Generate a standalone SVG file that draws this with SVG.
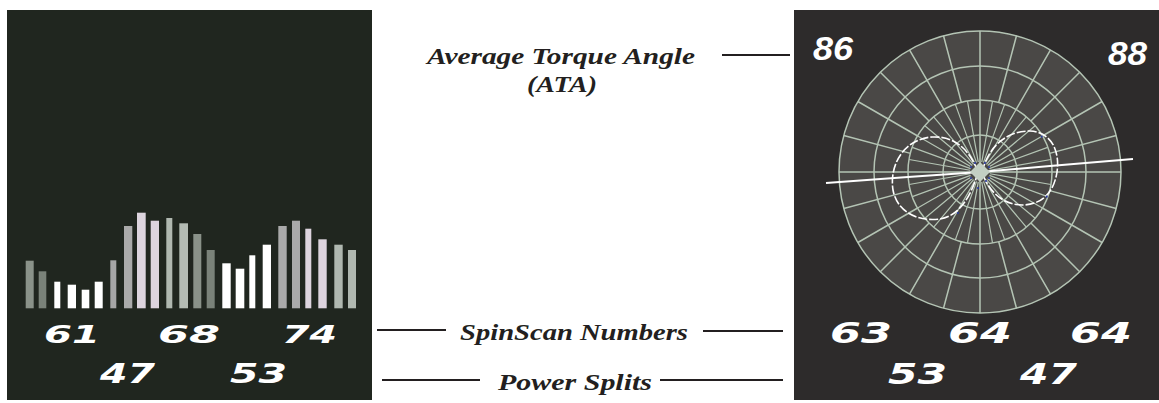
<svg xmlns="http://www.w3.org/2000/svg" xmlns:xlink="http://www.w3.org/1999/xlink" width="1159" height="403" viewBox="0 0 1159 403">
<style>
.lbl{font-family:"Liberation Serif","DejaVu Serif",serif;font-weight:bold;font-style:italic;fill:#231f20;}
.num{font-family:"DejaVu Sans","Liberation Sans",sans-serif;font-weight:bold;font-style:oblique;fill:#ffffff;}
.ata{font-family:"Liberation Sans","Arial",sans-serif;font-weight:bold;font-style:italic;fill:#ffffff;}
.grid{stroke:#b4c4b4;stroke-width:1.5;fill:none;}
.conn{stroke:#231f20;stroke-width:2;}
.lobe{stroke:#ffffff;stroke-width:1.6;fill:none;stroke-dasharray:9 2;}
.dot{fill:#2b3a9c;}
</style>
<defs>
<path id="osp" d="M1052 172H1121M908 172H839" class="grid"/>
<path id="isp" d="M990 172H1052M970 172H908" class="grid" style="stroke-width:1.2"/>
</defs>
<rect width="1159" height="403" fill="#ffffff"/>

<g id="spinscan-bars-panel">
<rect x="7" y="10" width="365" height="390" fill="#20261f"/>
<g id="bars">
<rect x="25.7" y="260.7" width="8" height="47.6" fill="#8a9289"/>
<rect x="38.7" y="271.3" width="7.6" height="37" fill="#7a8279"/>
<rect x="54.3" y="281.7" width="6" height="26.6" fill="#ffffff"/>
<rect x="67.7" y="284.7" width="8.3" height="23.6" fill="#ffffff"/>
<rect x="81.7" y="289.7" width="7.6" height="18.6" fill="#ffffff"/>
<rect x="94.7" y="281.7" width="8" height="26.6" fill="#ffffff"/>
<rect x="110.3" y="260.3" width="6" height="48" fill="#a6a6a6"/>
<rect x="124" y="226" width="8.3" height="82.3" fill="#aaaaaa"/>
<rect x="137" y="212.7" width="8.7" height="95.6" fill="#ddd4de"/>
<rect x="150.7" y="220.7" width="8.3" height="87.6" fill="#ddd4de"/>
<rect x="166.3" y="218" width="6" height="90.3" fill="#b0b8b0"/>
<rect x="179.3" y="223.3" width="8.7" height="85" fill="#b4bcb4"/>
<rect x="193.3" y="234" width="8" height="74.3" fill="#8a9289"/>
<rect x="206.7" y="250" width="8" height="58.3" fill="#7a8279"/>
<rect x="222.3" y="263.3" width="8.4" height="45" fill="#ffffff"/>
<rect x="235.7" y="268.7" width="8.6" height="39.6" fill="#ffffff"/>
<rect x="249.3" y="255.3" width="6" height="53" fill="#ffffff"/>
<rect x="262.7" y="244.7" width="8.3" height="63.6" fill="#ffffff"/>
<rect x="278.3" y="226" width="8.4" height="82.3" fill="#aaaaaa"/>
<rect x="292" y="220.7" width="8" height="87.6" fill="#aaaaaa"/>
<rect x="305.3" y="228.7" width="6" height="79.6" fill="#ddd4de"/>
<rect x="318.3" y="239.3" width="8.4" height="69" fill="#ddd4de"/>
<rect x="334.3" y="244.7" width="8.4" height="63.6" fill="#b0b8b0"/>
<rect x="348" y="250" width="8" height="58.3" fill="#b0b8b0"/>
</g>
<text class="num" x="44" y="343" font-size="25" textLength="56" lengthAdjust="spacingAndGlyphs">61</text>
<text class="num" x="158" y="343" font-size="25" textLength="62" lengthAdjust="spacingAndGlyphs">68</text>
<text class="num" x="282" y="343" font-size="25" textLength="55" lengthAdjust="spacingAndGlyphs">74</text>
<text class="num" x="100" y="383" font-size="27" textLength="55" lengthAdjust="spacingAndGlyphs">47</text>
<text class="num" x="230" y="383" font-size="27" textLength="57" lengthAdjust="spacingAndGlyphs">53</text>
</g>

<g id="polar-panel">
<rect x="794" y="10" width="365" height="390" fill="#2d2b2b"/>
<circle cx="980" cy="172" r="141" fill="#4a4846" class="grid" style="fill:#4a4846"/>
<circle cx="980" cy="172" r="106" class="grid"/>
<circle cx="980" cy="172" r="72" class="grid"/>
<circle cx="980" cy="172" r="37" class="grid"/>
<line x1="839" y1="172" x2="1121" y2="172" class="grid"/>
<line x1="980" y1="31" x2="980" y2="313" class="grid"/>
<use xlink:href="#osp" transform="rotate(15 980 172)"/>
<use xlink:href="#osp" transform="rotate(30 980 172)"/>
<use xlink:href="#osp" transform="rotate(45 980 172)"/>
<use xlink:href="#osp" transform="rotate(60 980 172)"/>
<use xlink:href="#osp" transform="rotate(75 980 172)"/>
<use xlink:href="#osp" transform="rotate(105 980 172)"/>
<use xlink:href="#osp" transform="rotate(120 980 172)"/>
<use xlink:href="#osp" transform="rotate(135 980 172)"/>
<use xlink:href="#osp" transform="rotate(150 980 172)"/>
<use xlink:href="#osp" transform="rotate(165 980 172)"/>
<use xlink:href="#isp" transform="rotate(10 980 172)"/>
<use xlink:href="#isp" transform="rotate(20 980 172)"/>
<use xlink:href="#isp" transform="rotate(30 980 172)"/>
<use xlink:href="#isp" transform="rotate(40 980 172)"/>
<use xlink:href="#isp" transform="rotate(50 980 172)"/>
<use xlink:href="#isp" transform="rotate(60 980 172)"/>
<use xlink:href="#isp" transform="rotate(70 980 172)"/>
<use xlink:href="#isp" transform="rotate(80 980 172)"/>
<use xlink:href="#isp" transform="rotate(100 980 172)"/>
<use xlink:href="#isp" transform="rotate(110 980 172)"/>
<use xlink:href="#isp" transform="rotate(120 980 172)"/>
<use xlink:href="#isp" transform="rotate(130 980 172)"/>
<use xlink:href="#isp" transform="rotate(140 980 172)"/>
<use xlink:href="#isp" transform="rotate(150 980 172)"/>
<use xlink:href="#isp" transform="rotate(160 980 172)"/>
<use xlink:href="#isp" transform="rotate(170 980 172)"/>
<path class="lobe" d="M978 172C968 146 952 136 932 137C904 139 889 165 893 190C897 212 918 222 940 219C960 216 972 194 978 172Z"/>
<path class="lobe" d="M982 172C988 148 1005 131 1030 131C1052 132 1060 152 1057 172C1054 192 1042 205 1022 205C1002 205 988 190 982 172Z"/>
<path d="M826 183L908 177L980 172L1050 166L1133 159" stroke="#ffffff" stroke-width="2" fill="none"/>
<path d="M980 162L990 172L980 182L970 172Z" fill="#c3cfc3"/>
<circle class="dot" cx="971" cy="167" r="1.1"/>
<circle class="dot" cx="975" cy="163" r="1.1"/>
<circle class="dot" cx="985" cy="163" r="1.1"/>
<circle class="dot" cx="989" cy="167" r="1.1"/>
<circle class="dot" cx="971" cy="178" r="1.1"/>
<circle class="dot" cx="986" cy="181" r="1.1"/>
<circle class="dot" cx="989" cy="178" r="1.1"/>
<circle class="dot" cx="978" cy="188" r="1.1"/>
<circle class="dot" cx="1041.7" cy="136.7" r="1.1"/>
<circle class="dot" cx="958" cy="213" r="1.1"/>
<circle class="dot" cx="1046.7" cy="196.7" r="1.1"/>
<text class="ata" x="813" y="60" font-size="33" textLength="40" lengthAdjust="spacingAndGlyphs">86</text>
<text class="ata" x="1108" y="65" font-size="33" textLength="39" lengthAdjust="spacingAndGlyphs">88</text>
<text class="num" x="830" y="343" font-size="28" textLength="62" lengthAdjust="spacingAndGlyphs">63</text>
<text class="num" x="948" y="343" font-size="28" textLength="64" lengthAdjust="spacingAndGlyphs">64</text>
<text class="num" x="1070" y="343" font-size="28" textLength="62" lengthAdjust="spacingAndGlyphs">64</text>
<text class="num" x="888" y="384" font-size="28" textLength="59" lengthAdjust="spacingAndGlyphs">53</text>
<text class="num" x="1020" y="384" font-size="28" textLength="57" lengthAdjust="spacingAndGlyphs">47</text>
</g>

<g id="label-ata">
<text class="lbl" x="427" y="64" font-size="23" textLength="268" lengthAdjust="spacingAndGlyphs">Average Torque Angle</text>
<text class="lbl" x="527" y="92" font-size="23" textLength="70" lengthAdjust="spacingAndGlyphs">(ATA)</text>
</g>
<g id="label-spinscan">
<text class="lbl" x="460" y="340" font-size="23" textLength="228" lengthAdjust="spacingAndGlyphs">SpinScan Numbers</text>
</g>
<g id="label-power">
<text class="lbl" x="498" y="390" font-size="23" textLength="154" lengthAdjust="spacingAndGlyphs">Power Splits</text>
</g>

<g id="connectors">
<line class="conn" x1="722" y1="55" x2="790" y2="55"/>
<line class="conn" x1="377" y1="330" x2="446" y2="330"/>
<line class="conn" x1="703" y1="331" x2="783" y2="331"/>
<line class="conn" x1="382" y1="380" x2="480" y2="380"/>
<line class="conn" x1="660" y1="380" x2="783" y2="380"/>
</g>
</svg>
